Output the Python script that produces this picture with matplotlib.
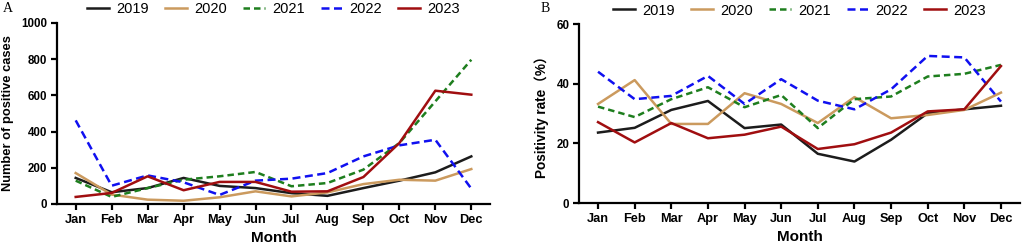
import matplotlib
matplotlib.use("Agg")
import matplotlib.pyplot as plt

plt.rcParams['font.family'] = ['Liberation Sans', 'Noto Sans CJK SC', 'DejaVu Sans']

months = ["Jan", "Feb", "Mar", "Apr", "May", "Jun", "Jul", "Aug", "Sep", "Oct", "Nov", "Dec"]
years = ["2019", "2020", "2021", "2022", "2023"]

cases_2019 = [144, 65, 88, 144, 100, 88, 60, 45, 88, 129, 175, 263]
cases_2020 = [171, 52, 24, 18, 37, 70, 42, 64, 110, 134, 129, 193]
cases_2021 = [129, 39, 88, 134, 153, 177, 98, 116, 190, 337, 567, 797]
cases_2022 = [462, 101, 158, 120, 50, 129, 140, 171, 263, 324, 355, 85]
cases_2023 = [39, 61, 153, 76, 122, 122, 68, 70, 149, 337, 626, 604]

rate_2019 = [23.6, 25.2, 31.2, 34.2, 25.1, 26.3, 16.5, 13.9, 21.2, 30.1, 31.4, 32.6]
rate_2020 = [33.2, 41.2, 26.5, 26.5, 36.8, 33.2, 26.8, 35.5, 28.4, 29.5, 31.2, 37.0]
rate_2021 = [32.3, 28.8, 34.8, 38.8, 32.1, 36.2, 25.1, 34.8, 35.7, 42.4, 43.3, 46.3]
rate_2022 = [44.0, 34.8, 35.9, 42.6, 33.2, 41.5, 34.3, 31.4, 38.1, 49.3, 48.8, 34.0]
rate_2023 = [27.1, 20.3, 26.8, 21.7, 22.9, 25.6, 18.1, 19.7, 23.6, 30.7, 31.4, 45.9]

colors = ["#1c1c1c", "#CB9A5E", "#1E7E1E", "#1010F0", "#A00E10"]
styles = ["-", "-", (0, (2.6, 1.6)), (0, (3.2, 1.8)), "-"]

cases = [cases_2019, cases_2020, cases_2021, cases_2022, cases_2023]
rates = [rate_2019, rate_2020, rate_2021, rate_2022, rate_2023]

fig = plt.figure(figsize=(10.26, 2.49), dpi=100)
axA = fig.add_axes([57/1026, 1-204/249, (490-57)/1026, (204-23)/249])
axB = fig.add_axes([579/1026, 1-203/249, (1020-579)/1026, (203-24)/249])

x = list(range(12))


def draw(ax, data, ylim, yticks, ylabel, ylabel_size):
    for vals, c, ls, yr in zip(data, colors, styles, years):
        ax.plot(x, vals, color=c, linestyle=ls, lw=1.8, label=yr)
    ax.set_xlim(-0.52, 11.52)
    ax.set_ylim(*ylim)
    ax.set_yticks(yticks)
    ax.set_xticks(x)
    ax.set_xticklabels(months)
    for s in ["top", "right"]:
        ax.spines[s].set_visible(False)
    for s in ["left", "bottom"]:
        ax.spines[s].set_linewidth(1.6)
    ax.tick_params(axis="both", width=1.6, length=4, pad=3)
    ax.tick_params(axis="x", labelsize=9.2)
    ax.tick_params(axis="y", labelsize=8.3)
    for lbl in ax.get_xticklabels() + ax.get_yticklabels():
        lbl.set_fontweight("bold")
    ax.set_xlabel("Month", fontsize=11, fontweight="bold", labelpad=4)
    ax.set_ylabel(ylabel, fontsize=ylabel_size, fontweight="bold", labelpad=5)
    ax.legend(loc="center", bbox_to_anchor=(0.5, 1.075), ncol=5, frameon=False,
              fontsize=10.5, handlelength=1.5, handletextpad=0.5, columnspacing=1.1,
              borderaxespad=0)


draw(axA, cases, (0, 1000), [0, 200, 400, 600, 800, 1000], "Number of positive cases", 9.3)
draw(axB, rates, (0, 60), [0, 20, 40, 60], "Positivity rate（%）", 9.8)

fig.text(3/1026, 1-9/249, "A", family="Liberation Serif", fontsize=10, va="center", ha="left")
fig.text(541/1026, 1-9/249, "B", family="Liberation Serif", fontsize=10, va="center", ha="left")

fig.savefig("out.png", dpi=100)
